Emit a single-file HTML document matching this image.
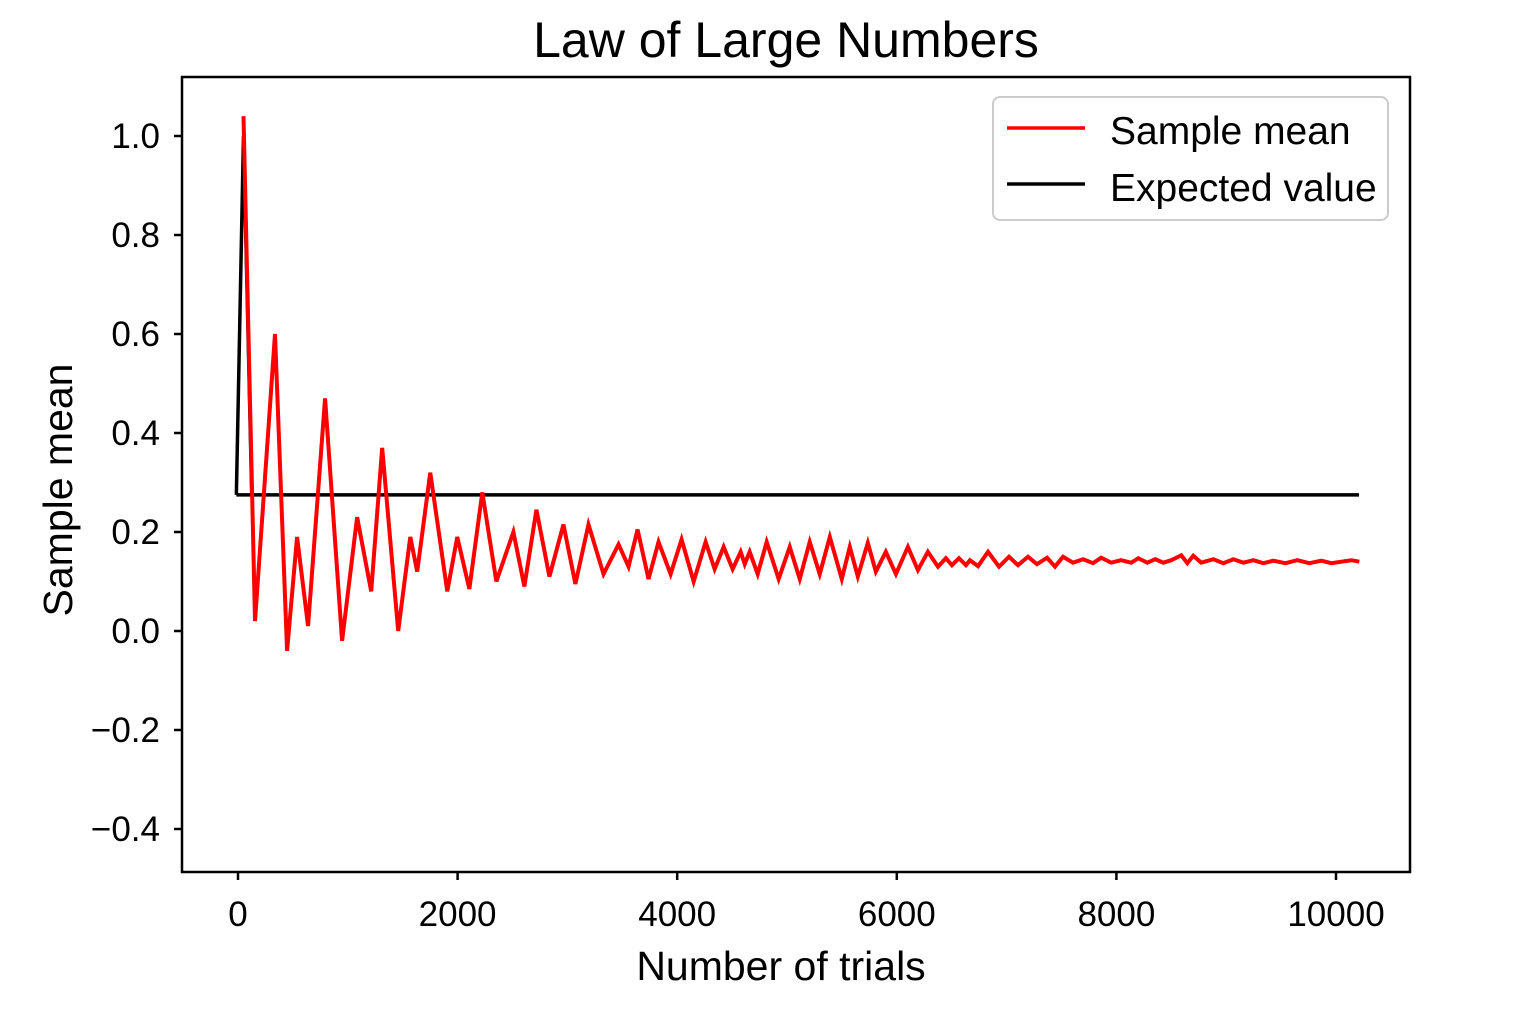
<!DOCTYPE html>
<html><head><meta charset="utf-8">
<style>
body{margin:0;background:#fff;}
svg{display:block;font-family:"Liberation Sans",sans-serif;}
</style></head>
<body>
<svg id="chart" width="1536" height="1024" viewBox="0 0 1536 1024">
<rect width="1536" height="1024" fill="#fff"/>
<text x="786" y="57" font-size="50" text-anchor="middle">Law of Large Numbers</text>
<g id="plot"></g>
<rect x="182" y="77" width="1228" height="795" fill="none" stroke="#000" stroke-width="2.5"/>
<text x="781" y="980" font-size="41" text-anchor="middle">Number of trials</text>
<text transform="translate(72,490) rotate(-90)" font-size="41" text-anchor="middle">Sample mean</text>
<g>
<rect x="993" y="97" width="395" height="123" rx="7" fill="#fff" stroke="#ccc" stroke-width="2"/>
<line x1="1007" y1="128" x2="1085" y2="128" stroke="#ff0000" stroke-width="3.5"/>
<text x="1110" y="144" font-size="39">Sample mean</text>
<line x1="1007" y1="184" x2="1085" y2="184" stroke="#000" stroke-width="3.5"/>
<text x="1110" y="201" font-size="39">Expected value</text>
</g>
</svg>
<script>
const trials = [50,155,337,447,538,638,793,948,1085,1213,1313,1459,1569,1632,1751,1906,1997,2107,2225,2353,2508,2608,2718,2836,2964,3073,3192,3329,3466,3557,3639,3739,3830,3940,4040,4150,4259,4341,4423,4505,4578,4615,4660,4733,4815,4924,5025,5116,5207,5298,5390,5499,5572,5645,5736,5809,5900,5992,6101,6192,6283,6375,6447,6502,6566,6630,6666,6740,6831,6931,7022,7104,7195,7277,7369,7441,7514,7605,7697,7788,7861,7952,8043,8135,8199,8281,8354,8427,8500,8591,8646,8700,8773,8883,8974,9065,9156,9247,9338,9429,9539,9648,9758,9867,9958,10049,10140,10213];
const sampleMeans = [1.04,0.02,0.60,-0.04,0.19,0.01,0.47,-0.02,0.23,0.08,0.37,0.00,0.19,0.12,0.32,0.08,0.19,0.085,0.28,0.10,0.20,0.09,0.245,0.11,0.215,0.095,0.215,0.115,0.175,0.13,0.205,0.105,0.18,0.115,0.185,0.10,0.18,0.125,0.17,0.125,0.16,0.135,0.16,0.115,0.18,0.105,0.17,0.105,0.18,0.115,0.19,0.105,0.17,0.11,0.178,0.12,0.16,0.115,0.17,0.123,0.16,0.13,0.147,0.133,0.147,0.133,0.143,0.131,0.16,0.13,0.15,0.133,0.15,0.135,0.148,0.13,0.15,0.138,0.145,0.137,0.148,0.138,0.143,0.138,0.147,0.138,0.145,0.138,0.143,0.153,0.137,0.152,0.138,0.145,0.137,0.145,0.138,0.143,0.137,0.142,0.137,0.143,0.137,0.142,0.137,0.14,0.143,0.14];
const expectedX = [-15,50,125];
const expectedY = [0.275,1.0,0.275];
const expectedValue = 0.275;
const expectedRange = [-15,10210];
const xTicks = [0,2000,4000,6000,8000,10000];
const yTicks = [-0.4,-0.2,0.0,0.2,0.4,0.6,0.8,1.0];

const X = v => 238 + v * 0.1098;
const Y = v => 631 - v * 495;
const NS = "http://www.w3.org/2000/svg";
const g = document.getElementById('plot');
function mk(tag, attrs){const e=document.createElementNS(NS,tag);for(const k in attrs)e.setAttribute(k,attrs[k]);return e;}

xTicks.forEach(t=>{
  const l = mk('line',{x1:X(t),x2:X(t),y1:872,y2:880,stroke:'#000','stroke-width':2.5});
  
  
  g.appendChild(l);
  const tx = mk('text',{x:X(t),y:926,'font-size':35,'text-anchor':'middle'});
  tx.textContent = String(t);
  
  
  g.appendChild(tx);
});
yTicks.forEach(t=>{
  const l = mk('line',{x1:174,x2:182,y1:Y(t),y2:Y(t),stroke:'#000','stroke-width':2.5});
  
  
  g.appendChild(l);
  const tx = mk('text',{x:160,y:Y(t)+12,'font-size':35,'text-anchor':'end'});
  tx.textContent = (t<0?'\u2212':'') + Math.abs(t).toFixed(1);
  
  
  g.appendChild(tx);
});
const evb = mk('line',{x1:X(expectedRange[0]),x2:X(expectedRange[1]),y1:Y(expectedValue),y2:Y(expectedValue),stroke:'#000','stroke-width':3.5});


g.appendChild(evb);
const ev = mk('polyline',{points:expectedX.map((x,i)=>X(x)+','+Y(expectedY[i])).join(' '),fill:'none',stroke:'#000','stroke-width':3.5});


g.appendChild(ev);
const sm = mk('polyline',{points:trials.map((x,i)=>X(x)+','+Y(sampleMeans[i])).join(' '),fill:'none',stroke:'#ff0000','stroke-width':4,'stroke-linejoin':'miter'});


g.appendChild(sm);
</script>
</body></html>
